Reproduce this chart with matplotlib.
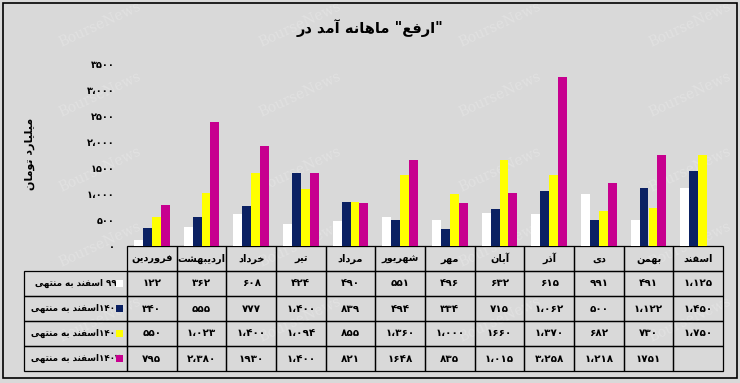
import re
import numpy as np
import matplotlib
matplotlib.use('Agg')
import matplotlib.pyplot as plt
from matplotlib.patches import Rectangle

# months as shown left to right in the data table
months = ['فروردین', 'اردیبهشت', 'خرداد', 'تیر', 'مرداد', 'شهریور',
          'مهر', 'آبان', 'آذر', 'دی', 'بهمن', 'اسفند']

series_names = ['منتهی به اسفند ۹۹', 'منتهی به اسفند۱۴۰۰',
                'منتهی به اسفند۱۴۰۱', 'منتهی به اسفند۱۴۰۲']

# billion toman
s99 = [122, 362, 608, 424, 490, 551, 496, 632, 615, 991, 491, 1125]
s1400 = [340, 555, 777, 1400, 839, 494, 334, 715, 1062, 500, 1122, 1450]
s1401 = [550, 1023, 1400, 1094, 855, 1360, 1000, 1660, 1370, 682, 730, 1750]
s1402 = [795, 2380, 1930, 1400, 821, 1648, 835, 1015, 3258, 1218, 1751, None]

# a few cells in the source table are printed without the thousands mark
no_sep = {1930, 1648, 1660, 1751}

yticks = [0, 500, 1000, 1500, 2000, 2500, 3000, 3500]
ytick_labels = ['۰', '۵۰۰', '۱،۰۰۰', '۱۵۰۰', '۲،۰۰۰', '۲۵۰۰', '۳،۰۰۰', '۳۵۰۰']

title = 'در آمد ماهانه "ارفع"'
ylabel = 'میلیارد تومان'

colors = ['#ffffff', '#0b2163', '#ffff00', '#c7008f']
bg = '#d9d9d9'

# --- minimal arabic shaping (matplotlib has no bidi / joining) ---
FORMS = {
    'ا': ('\uFE8D', '\uFE8E'), 'آ': ('\uFE81', '\uFE82'),
    'ب': ('\uFE8F', '\uFE90', '\uFE91', '\uFE92'),
    'ت': ('\uFE95', '\uFE96', '\uFE97', '\uFE98'),
    'خ': ('\uFEA5', '\uFEA6', '\uFEA7', '\uFEA8'),
    'د': ('\uFEA9', '\uFEAA'), 'ذ': ('\uFEAB', '\uFEAC'),
    'ر': ('\uFEAD', '\uFEAE'), 'ز': ('\uFEAF', '\uFEB0'),
    'س': ('\uFEB1', '\uFEB2', '\uFEB3', '\uFEB4'),
    'ش': ('\uFEB5', '\uFEB6', '\uFEB7', '\uFEB8'),
    'ع': ('\uFEC9', '\uFECA', '\uFECB', '\uFECC'),
    'ف': ('\uFED1', '\uFED2', '\uFED3', '\uFED4'),
    'ل': ('\uFEDD', '\uFEDE', '\uFEDF', '\uFEE0'),
    'م': ('\uFEE1', '\uFEE2', '\uFEE3', '\uFEE4'),
    'ن': ('\uFEE5', '\uFEE6', '\uFEE7', '\uFEE8'),
    'ه': ('\uFEE9', '\uFEEA', '\uFEEB', '\uFEEC'),
    'و': ('\uFEED', '\uFEEE'),
    'ی': ('\uFEEF', '\uFEF0', '\uFEF3', '\uFEF4'),
}
FORMS['\u064A'] = FORMS['ی']
FA_DIGITS = '۰۱۲۳۴۵۶۷۸۹'


def shape_run(s):
    out = []
    for i, ch in enumerate(s):
        f = FORMS.get(ch)
        if f is None:
            out.append(ch)
            continue
        prev = FORMS.get(s[i - 1]) if i > 0 else None
        nxt = FORMS.get(s[i + 1]) if i + 1 < len(s) else None
        jp = prev is not None and len(prev) == 4
        jn = nxt is not None and len(f) == 4
        if jp and jn:
            out.append(f[3])
        elif jp:
            out.append(f[1])
        elif jn:
            out.append(f[2])
        else:
            out.append(f[0])
    return ''.join(out[::-1])


def word(w):
    runs = re.findall(r'[۰-۹،]+|[^۰-۹،]+', w)
    return ''.join(r if r[0] in FA_DIGITS else shape_run(r) for r in runs)


def ltr(text):
    return ' '.join(word(w) for w in text.split(' '))


def rtl(text):
    return ' '.join(word(w) for w in text.split(' ')[::-1])


def fa(v):
    if v is None:
        return ''
    s = f'{v:,}' if (v >= 1000 and v not in no_sep) else str(v)
    return s.translate(str.maketrans('0123456789,', FA_DIGITS + '،'))


plt.rcParams['font.family'] = ['DejaVu Sans']
W, H = 740, 383
fig = plt.figure(figsize=(W / 100, H / 100), dpi=100, facecolor=bg)

# outer frame
fig.patches.append(Rectangle((3 / W, 5 / H), 734 / W, 375 / H, transform=fig.transFigure,
                             fill=False, edgecolor='black', linewidth=1.2))

# faint watermarks behind everything
for yy in [25, 95, 170, 245, 320]:
    for xx in [100, 300, 500, 690]:
        fig.text(xx / W, 1 - yy / H, 'BourseNews', family='DejaVu Serif', fontsize=10,
                 color='#e1e1e1', rotation=25, ha='center', va='center', zorder=-1)

ax = fig.add_axes([127 / W, 137 / H, 596 / W, 182 / H])
ax.set_facecolor('none')

x = np.arange(len(months))
bw = 0.18
all_series = [s99, s1400, s1401, s1402]
for k, (vals, c) in enumerate(zip(all_series, colors)):
    v = np.array([np.nan if a is None else a for a in vals], dtype=float)
    ax.bar(x + (k - 1.5) * bw, v, width=bw, color=c, zorder=3)

ax.set_xlim(-0.5, len(months) - 0.5)
ax.set_ylim(0, 3500)
ax.set_xticks([])
ax.set_yticks(yticks)
ax.set_yticklabels(ytick_labels, fontsize=7, fontweight='bold')
ax.tick_params(axis='y', length=0, pad=9)
for sp in ax.spines.values():
    sp.set_visible(False)

fig.text(370 / W, 1 - 28 / H, ltr(title), ha='center', va='center',
         fontsize=10.5, fontweight='bold')
fig.text(30 / W, 1 - 154 / H, rtl(ylabel), ha='center', va='center',
         rotation=90, fontsize=8, fontweight='bold')

# data table under the bars
cell_text = [[ltr(name)] + [fa(v) for v in vals] for name, vals in zip(series_names, all_series)]
col_labels = [''] + [word(m) for m in months]
col_w = [103] + [596 / 12] * 12
tab = ax.table(cellText=cell_text, colLabels=col_labels, colWidths=col_w,
               cellLoc='center', bbox=[(24 - 127) / 596, -125 / 182, 699 / 596, 125 / 182])
tab.auto_set_font_size(False)
for (r, c), cell in tab.get_celld().items():
    cell.set_facecolor('none')
    cell.set_edgecolor('black')
    cell.set_linewidth(0.9)
    cell.get_text().set_fontsize(7.5 if r > 0 else 7)
    cell.get_text().set_fontweight('bold')
    if r == 0 and c == 0:
        cell.visible_edges = ''
    if c == 0 and r > 0:
        cell._loc = 'right'
        cell.PAD = 0.15
        cell.get_text().set_fontsize(6.3)

# legend keys in the label column
for k, c in enumerate(colors):
    top = 271 + 25 * k
    fig.patches.append(Rectangle((116 / W, 1 - (top + 16) / H), 7 / W, 7 / H,
                                 transform=fig.transFigure, facecolor=c,
                                 edgecolor='none', zorder=5))

fig.savefig('out.png', dpi=100, facecolor=bg)
